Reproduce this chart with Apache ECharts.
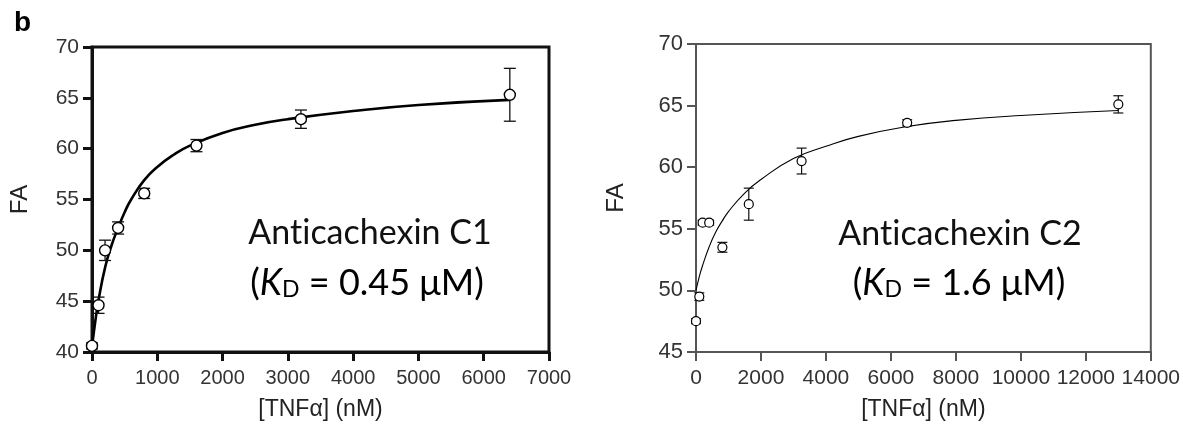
<!DOCTYPE html>
<html>
<head>
<meta charset="utf-8">
<script src="https://cdn.jsdelivr.net/npm/echarts@6/dist/echarts.min.js"></script>
<style>
html, body { margin: 0; padding: 0; background: #fff; }
#chart { width: 1183px; height: 433px; }
</style>
</head>
<body>
<div id="chart"></div>
<script>
// Anticachexin C1 (left panel)
var c1Conc = [0, 100, 200, 400, 800, 1600, 3200, 6400]
var c1FA = [40.6, 44.6, 50.0, 52.2, 55.6, 60.3, 62.9, 65.3]
var c1Err = [0.3, 0.8, 1.0, 0.6, 0.5, 0.6, 0.9, 2.6]
// fitted curve
var c1FitX = [0, 50, 100, 200, 300, 400, 500, 600, 800, 1000, 1250, 1500, 2000, 2500, 3000, 4000, 5000, 6400]
var c1FitY = [40.5, 43.0, 45.1, 48.3, 50.5, 52.2, 53.75, 55.0, 56.9, 58.2, 59.4, 60.3, 61.55, 62.35, 62.9, 63.7, 64.3, 64.8]

// Anticachexin C2 (right panel)
var c2Conc = [0, 101.5, 203, 406, 812, 1625, 3250, 6500, 13000]
var c2FA = [47.5, 49.5, 55.5, 55.5, 53.5, 57.0, 60.5, 63.6, 65.1]
var c2Err = [0.2, 0.3, 0.2, 0.2, 0.4, 1.3, 1.05, 0.25, 0.7]
var c2FitX = [0, 100, 200, 400, 600, 800, 1000, 1500, 2000, 3000, 4000, 5000, 6500, 8000, 10000, 13000]
var c2FitY = [50.0, 51.1, 52.0, 53.5, 54.7, 55.6, 56.4, 57.9, 59.0, 60.7, 61.7, 62.5, 63.3, 63.8, 64.2, 64.6]

var labelFont = 'Arial, "Liberation Sans", sans-serif'
var noteFont = 'Lato, "Open Sans", sans-serif'

function pairs (xs, ys) {
  var out = []
  for (var i = 0; i < xs.length; i++) out.push([xs[i], ys[i]])
  return out
}

function errData (xs, ys, es) {
  var out = []
  for (var i = 0; i < xs.length; i++) out.push([xs[i], ys[i] - es[i], ys[i] + es[i]])
  return out
}

function errorBars (capHalf, color, width) {
  return function (params, api) {
    var lo = api.coord([api.value(0), api.value(1)])
    var hi = api.coord([api.value(0), api.value(2)])
    var st = { stroke: color, lineWidth: width }
    return {
      type: 'group',
      children: [
        { type: 'line', shape: { x1: lo[0], y1: lo[1], x2: hi[0], y2: hi[1] }, style: st },
        { type: 'line', shape: { x1: lo[0] - capHalf, y1: lo[1], x2: lo[0] + capHalf, y2: lo[1] }, style: st },
        { type: 'line', shape: { x1: hi[0] - capHalf, y1: hi[1], x2: hi[0] + capHalf, y2: hi[1] }, style: st }
      ]
    }
  }
}

function plain (v) { return String(v) }

function xAxisOf (idx, max, interval, color, lw, fs) {
  return {
    gridIndex: idx,
    type: 'value',
    min: 0,
    max: max,
    interval: interval,
    name: '[TNFα] (nM)',
    nameLocation: 'middle',
    nameGap: 46,
    nameTextStyle: { fontSize: 23, color: '#222', fontFamily: labelFont },
    axisLine: { show: true, onZero: false, lineStyle: { color: color, width: lw } },
    axisTick: { show: true, length: 9, lineStyle: { color: color, width: lw } },
    axisLabel: { fontSize: fs, color: '#333', margin: 16, fontFamily: labelFont, formatter: plain },
    splitLine: { show: false }
  }
}

function yAxisOf (idx, min, color, lw, fs, gap) {
  return {
    gridIndex: idx,
    type: 'value',
    min: min,
    max: 70,
    interval: 5,
    name: 'FA',
    nameLocation: 'middle',
    nameGap: gap,
    nameTextStyle: { fontSize: 24, color: '#222', fontFamily: labelFont },
    axisLine: { show: true, onZero: false, lineStyle: { color: color, width: lw } },
    axisTick: { show: true, length: 9, lineStyle: { color: color, width: lw } },
    axisLabel: { fontSize: fs, color: '#333', margin: 13, fontFamily: labelFont, formatter: plain },
    splitLine: { show: false }
  }
}

function kdRich () {
  return {
    n: { fontSize: 36, lineHeight: 36, fontFamily: noteFont, color: '#111', verticalAlign: 'top' },
    i: { fontSize: 36, lineHeight: 36, fontFamily: noteFont, fontStyle: 'italic', color: '#111', verticalAlign: 'top' },
    s: { fontSize: 23, lineHeight: 23, fontFamily: noteFont, color: '#111', verticalAlign: 'bottom', padding: [24, 0, 0, 0] }
  }
}

var chart = echarts.init(document.getElementById('chart'))
chart.setOption({
  backgroundColor: '#fff',
  animation: false,
  grid: [
    { left: 92, top: 47, width: 457, height: 305, show: true, borderColor: '#111', borderWidth: 3, backgroundColor: 'transparent' },
    { left: 696, top: 44, width: 457, height: 308, show: true, borderColor: '#555', borderWidth: 2, backgroundColor: 'transparent' }
  ],
  xAxis: [
    xAxisOf(0, 7000, 1000, '#111', 3, 20),
    xAxisOf(1, 14000, 2000, '#555', 2, 21)
  ],
  yAxis: [
    yAxisOf(0, 40, '#111', 3, 21, 60),
    yAxisOf(1, 45, '#555', 2, 22, 68)
  ],
  series: [
    {
      type: 'line', xAxisIndex: 0, yAxisIndex: 0, smooth: true, showSymbol: false, z: 2,
      data: pairs(c1FitX, c1FitY),
      lineStyle: { color: '#000', width: 2.6 }
    },
    {
      type: 'custom', xAxisIndex: 0, yAxisIndex: 0, z: 3, clip: false,
      renderItem: errorBars(6, '#111', 1.3),
      data: errData(c1Conc, c1FA, c1Err)
    },
    {
      type: 'scatter', xAxisIndex: 0, yAxisIndex: 0, z: 4, clip: false,
      symbol: 'circle', symbolSize: 11,
      itemStyle: { color: '#fff', borderColor: '#000', borderWidth: 1.4, opacity: 1 },
      data: pairs(c1Conc, c1FA)
    },
    {
      type: 'line', xAxisIndex: 1, yAxisIndex: 1, smooth: true, showSymbol: false, z: 2,
      data: pairs(c2FitX, c2FitY),
      lineStyle: { color: '#000', width: 1.1 }
    },
    {
      type: 'custom', xAxisIndex: 1, yAxisIndex: 1, z: 3, clip: false,
      renderItem: errorBars(5, '#111', 1.2),
      data: errData(c2Conc, c2FA, c2Err)
    },
    {
      type: 'scatter', xAxisIndex: 1, yAxisIndex: 1, z: 4, clip: false,
      symbol: 'circle', symbolSize: 9,
      itemStyle: { color: '#fff', borderColor: '#000', borderWidth: 1.2, opacity: 1 },
      data: pairs(c2Conc, c2FA)
    }
  ],
  graphic: [
    { type: 'text', left: 14, top: 9, style: { text: 'b', font: 'bold 28px ' + labelFont, fill: '#000' } },
    {
      type: 'text', x: 370, y: 233,
      style: { text: 'Ant\u200Cicachexin C1', font: '34px ' + noteFont, fill: '#111', align: 'center', verticalAlign: 'middle' }
    },
    {
      type: 'text', x: 367, y: 283,
      style: { text: '{n|(}{i|K}{s|D}{n| = 0.45 μM)}', align: 'center', verticalAlign: 'middle', rich: kdRich() }
    },
    {
      type: 'text', x: 960, y: 234,
      style: { text: 'Ant\u200Cicachexin C2', font: '34px ' + noteFont, fill: '#111', align: 'center', verticalAlign: 'middle' }
    },
    {
      type: 'text', x: 959, y: 283,
      style: { text: '{n|(}{i|K}{s|D}{n| = 1.6 μM)}', align: 'center', verticalAlign: 'middle', rich: kdRich() }
    }
  ]
})
</script>
</body>
</html>
